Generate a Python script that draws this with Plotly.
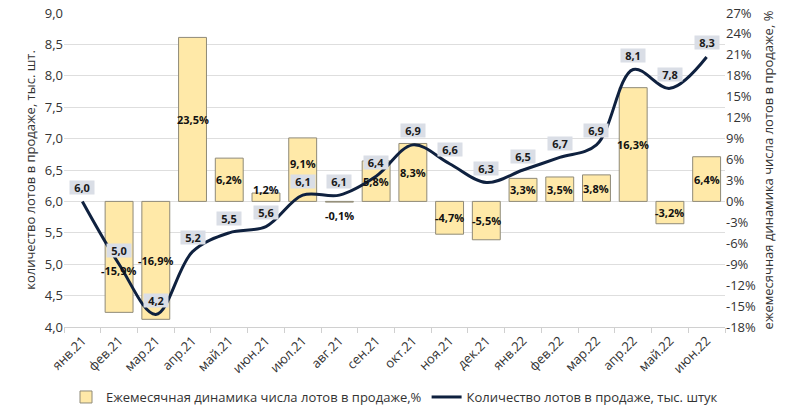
import plotly.graph_objects as go

months = ["янв.21", "фев.21", "мар.21", "апр.21", "май.21", "июн.21", "июл.21", "авг.21",
          "сен.21", "окт.21", "ноя.21", "дек.21", "янв.22", "фев.22", "мар.22", "апр.22",
          "май.22", "июн.22"]
lots = [6.0, 5.0, 4.2, 5.2, 5.5, 5.6, 6.1, 6.1, 6.4, 6.9, 6.6, 6.3, 6.5, 6.7, 6.9, 8.1, 7.8, 8.3]
change_pct = [None, -15.9, -16.9, 23.5, 6.2, 1.2, 9.1, -0.1, 5.8, 8.3, -4.7, -5.5,
              3.3, 3.5, 3.8, 16.3, -3.2, 6.4]
pct_ticks = [-18, -15, -12, -9, -6, -3, 0, 3, 6, 9, 12, 15, 18, 21, 24, 27]
pct_ticktext = ["-18%", "-15%", "-12%", "-9%", "-6%", "-3%", "0%", "3%", "6%", "9%",
                "12%", "15%", "18%", "21%", "24%", "27%"]

bar_name = "Ежемесячная динамика числа лотов в продаже,%"
line_name = "Количество лотов в продаже, тыс. штук"
FONT = "Open Sans"
TXT = "#333333"

# pixel nudges for a few bar labels (style only)
bar_label_shift = {"фев.21": -14, "июн.21": 8, "июл.21": 6, "авг.21": -13}

fig = go.Figure()
fig.add_trace(go.Bar(
    x=months, y=change_pct, name=bar_name, yaxis="y",
    marker=dict(color="#ffe9a8", line=dict(color="#8f8a78", width=1)),
))
fig.add_trace(go.Scatter(
    x=months, y=lots, name=line_name, yaxis="y2", mode="lines",
    line=dict(color="#0f213f", width=3, shape="spline", smoothing=1.0),
))

annotations = []
for m, v in zip(months, change_pct):
    if v is None:
        continue
    txt = f"{v:.1f}%".replace(".", ",")
    yv = v if abs(v) < 1 else v / 2
    annotations.append(dict(x=m, y=yv, xref="x", yref="y", text=txt, showarrow=False,
                            yshift=bar_label_shift.get(m, 0),
                            font=dict(family=FONT, size=11, color="#111111", weight="bold")))
for m, v in zip(months, lots):
    txt = f"{v:.1f}".replace(".", ",")
    annotations.append(dict(x=m, y=v, xref="x", yref="y2", text=txt, showarrow=False,
                            yshift=14, bgcolor="#dadee6", borderpad=1, width=22, height=11,
                            font=dict(family=FONT, size=11, color="#1a1a1a", weight="bold")))

fig.update_layout(
    width=800, height=412,
    margin=dict(l=64, r=75, t=13, b=85, autoexpand=False),
    paper_bgcolor="white", plot_bgcolor="white",
    font=dict(family=FONT, size=13, color=TXT),
    separators=", ",
    bargap=0.24,
    showlegend=True,
    legend=dict(orientation="h", x=0.5, xanchor="center", y=-0.223, yanchor="middle",
                font=dict(family=FONT, size=13, color=TXT), traceorder="normal",
                itemwidth=30),
    xaxis=dict(type="category", range=[-0.5, 17.5], tickangle=-45, automargin=False,
               ticks="outside", tickson="boundaries", ticklen=5, tickcolor="#d0d0d0",
               showline=True, linecolor="#d0d0d0", linewidth=1, showgrid=False,
               tickfont=dict(family=FONT, size=13, color=TXT)),
    yaxis=dict(side="right", range=[-18, 27], tickvals=pct_ticks, ticktext=pct_ticktext,
               showgrid=False, zeroline=False, ticks="", automargin=False,
               tickfont=dict(family=FONT, size=13, color=TXT),
               title=dict(text="ежемесячная динамика числа лотов в продаже, %",
                          font=dict(family=FONT, size=13, color=TXT), standoff=8)),
    yaxis2=dict(side="left", overlaying="y", range=[4.0, 9.0], dtick=0.5, tickformat=".1f",
                showgrid=True, gridcolor="#dedede", gridwidth=1, zeroline=False, ticks="",
                automargin=False,
                tickfont=dict(family=FONT, size=13, color=TXT),
                title=dict(text="количество лотов в продаже, тыс. шт.",
                           font=dict(family=FONT, size=13, color=TXT), standoff=6)),
    annotations=annotations,
)

fig.write_html("out.html", config={"displayModeBar": False},
               post_script="document.body.style.margin='0';")
